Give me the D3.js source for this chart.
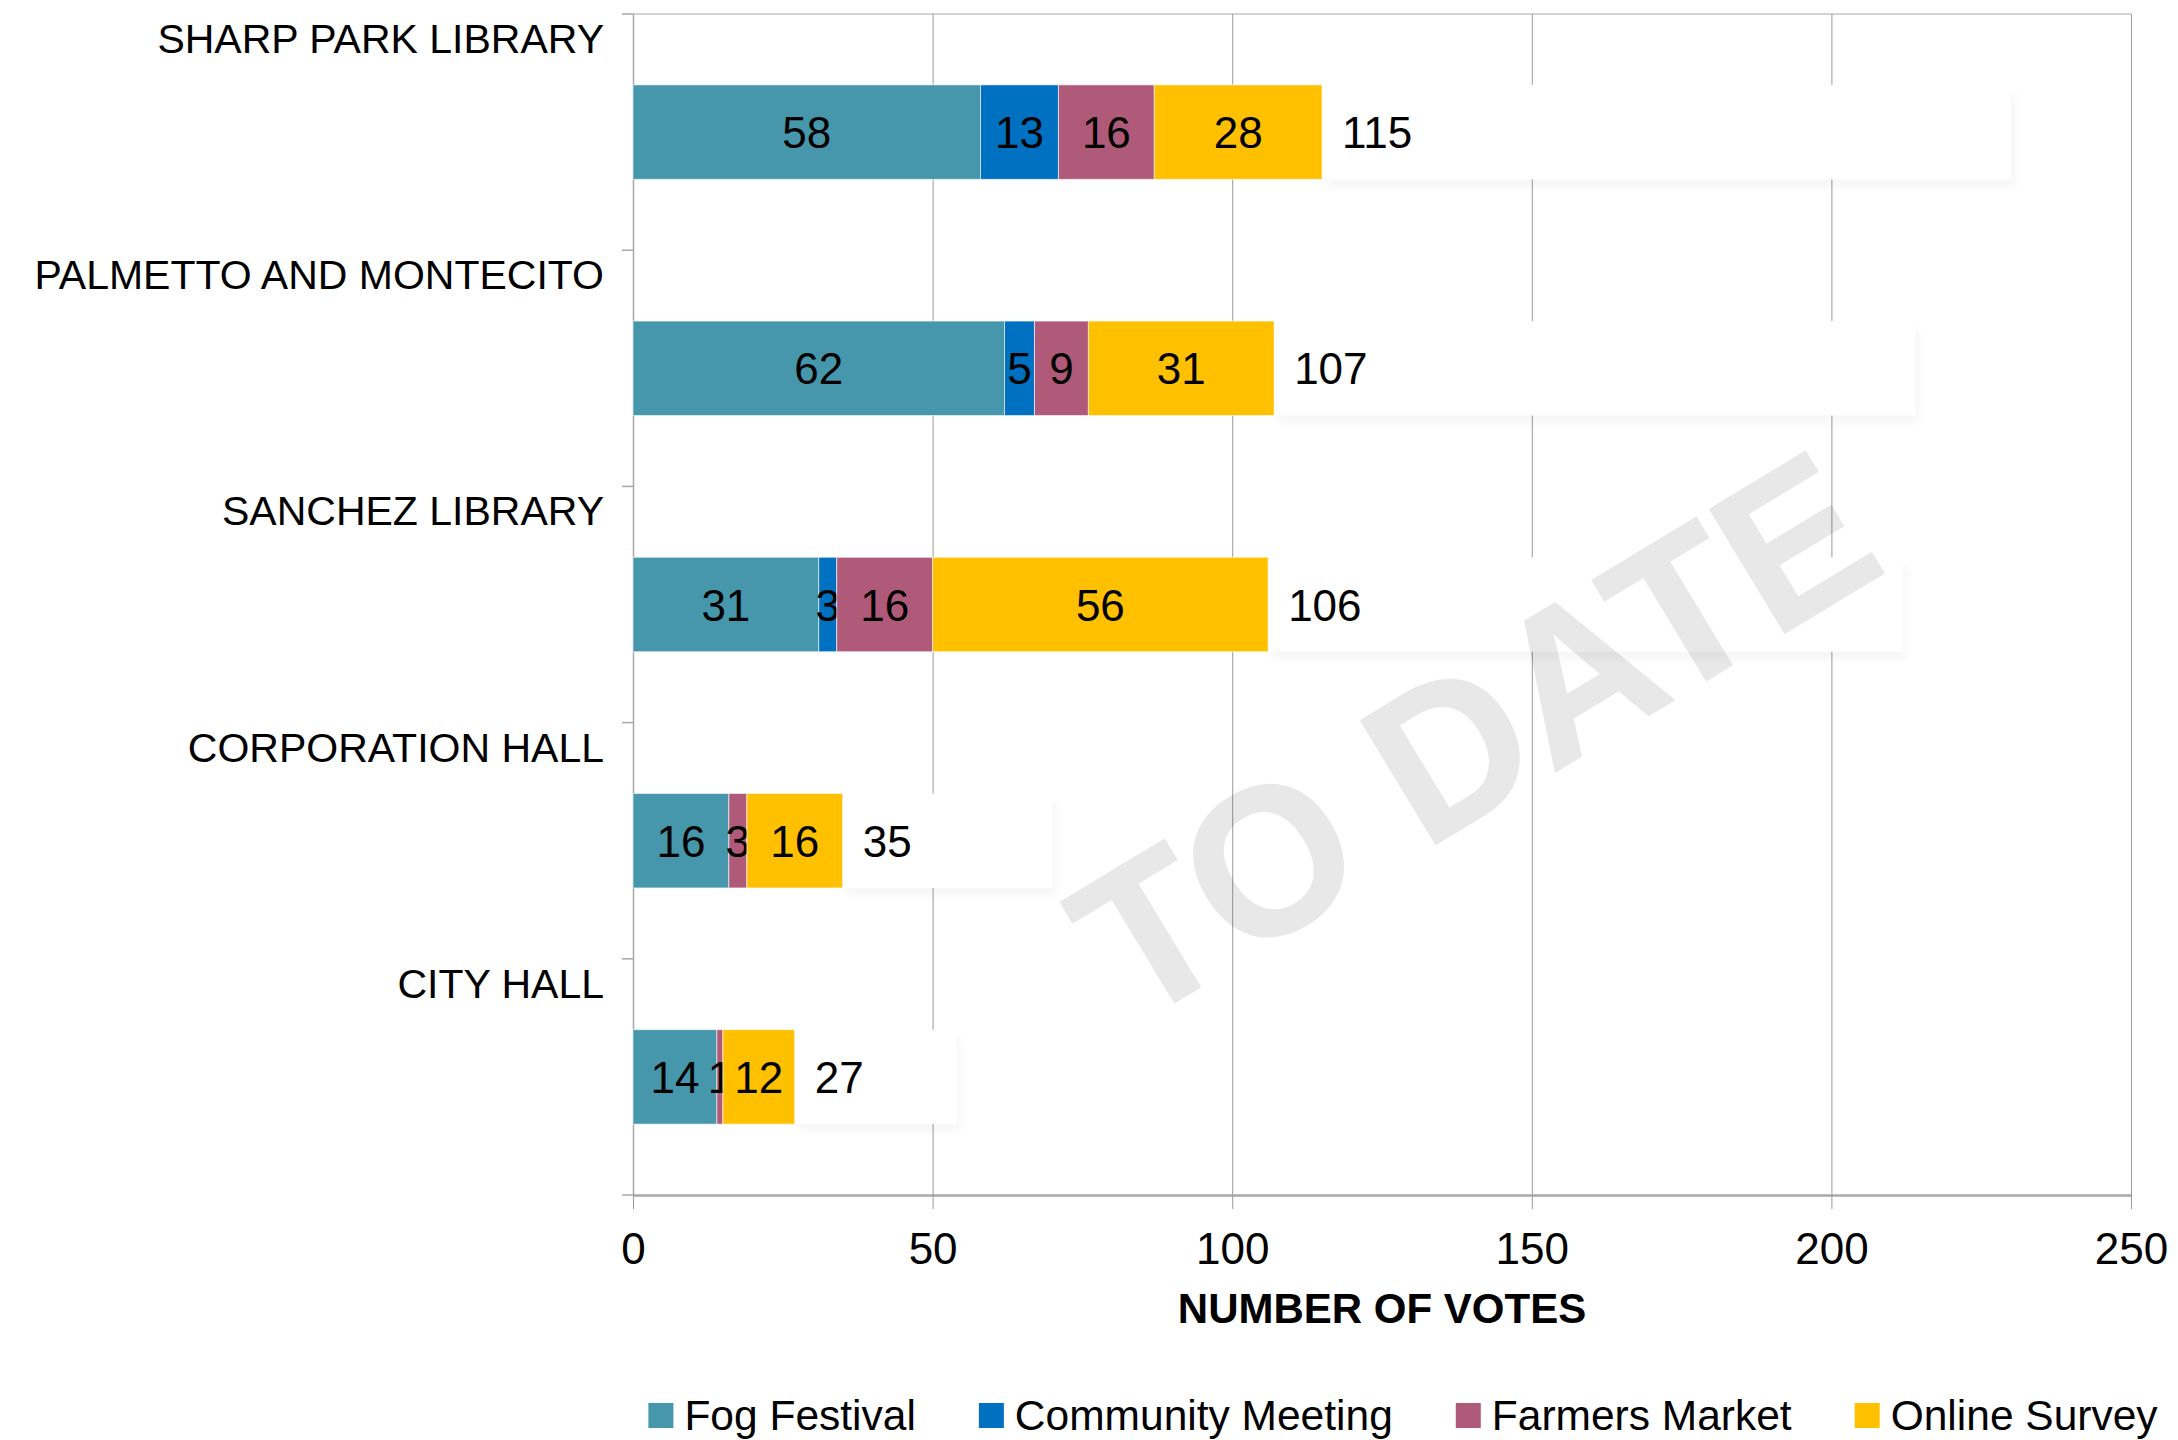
<!DOCTYPE html>
<html>
<head>
<meta charset="utf-8">
<script src="https://cdn.jsdelivr.net/npm/d3@7"></script>
<style>
  html, body { margin: 0; padding: 0; background: #fff; }
  svg { display: block; font-family: "Liberation Sans", Arial, sans-serif; }
</style>
</head>
<body>
<svg id="chart" width="2178" height="1440"></svg>
<script>
// Votes per site, one array per collection method
var sites = ['SHARP PARK LIBRARY', 'PALMETTO AND MONTECITO', 'SANCHEZ LIBRARY', 'CORPORATION HALL', 'CITY HALL'];
var seriesNames = ['Fog Festival', 'Community Meeting', 'Farmers Market', 'Online Survey'];
var fogFestival = [58, 62, 31, 16, 14];
var communityMeeting = [13, 5, 3, 0, 0];
var farmersMarket = [16, 9, 16, 3, 1];
var onlineSurvey = [28, 31, 56, 16, 12];
var xTicks = [0, 50, 100, 150, 200, 250];
var axisTitle = 'NUMBER OF VOTES';
var watermark = 'TO DATE';

var seriesColors = ['#4697ab', '#0070c0', '#af5a78', '#ffc000'];

(function () {
    var svg = d3.select('#chart');
    var plot = {left: 633, right: 2131, top: 14, bottom: 1195};

    var seriesValues = [fogFestival, communityMeeting, farmersMarket, onlineSurvey];
    var rows = sites.map(function(site, i) {
        var row = {site: site};
        seriesNames.forEach(function(name, k) { row[name] = seriesValues[k][i]; });
        row.total = d3.sum(seriesValues, function(vals) { return vals[i]; });
        return row;
    });

    var x = d3.scaleLinear().domain([0, 250]).range([plot.left, plot.right]);
    var y = d3.scaleBand().domain(sites).range([plot.top, plot.bottom])
        .paddingInner(0.6).paddingOuter(0.3);
    var color = d3.scaleOrdinal().domain(seriesNames).range(seriesColors);

    var step = y.step();
    var bandTop = function(site) { return y(site) - y.paddingOuter() * step; };

    // Soft shadow used under the white total boxes
    var defs = svg.append('defs');
    var blur = defs.append('filter').attr('id', 'soft').attr('x', '-10%').attr('y', '-30%')
        .attr('width', '120%').attr('height', '160%');
    blur.append('feGaussianBlur').attr('stdDeviation', 4);

    // plot frame top
    svg.append('line')
        .attr('x1', plot.left).attr('x2', plot.right)
        .attr('y1', plot.top).attr('y2', plot.top)
        .attr('stroke', '#d4d4d4').attr('stroke-width', 2);

    // vertical gridlines
    svg.append('g').selectAll('line')
        .data(xTicks.filter(function(t) { return t > 0; }))
        .enter().append('line')
        .attr('x1', function(d) { return x(d) + 0.5; })
        .attr('x2', function(d) { return x(d) + 0.5; })
        .attr('y1', plot.top).attr('y2', plot.bottom)
        .attr('stroke', '#9a9a9a').attr('stroke-width', 1);

    // x axis
    var xAxis = d3.axisBottom(x).tickValues(xTicks).tickSize(14).tickPadding(24).tickSizeOuter(0);
    var gx = svg.append('g')
        .attr('transform', 'translate(0,' + plot.bottom + ')')
        .call(xAxis);
    gx.select('.domain').attr('stroke', '#a8a8a8').attr('stroke-width', 2.5);
    gx.selectAll('.tick line').attr('stroke', '#9a9a9a').attr('stroke-width', 1);
    gx.selectAll('.tick text')
        .attr('font-size', 44).attr('fill', '#000')
        .attr('font-family', '"Liberation Sans", Arial, sans-serif');

    svg.append('text')
        .attr('x', (plot.left + plot.right) / 2)
        .attr('y', 1323)
        .attr('text-anchor', 'middle')
        .attr('font-size', 42)
        .attr('font-weight', 'bold')
        .text(axisTitle);

    // y axis line with ticks at the band edges
    var edges = d3.range(sites.length + 1).map(function(i) { return plot.top + i * step; });
    svg.append('line')
        .attr('x1', plot.left + 0.5).attr('x2', plot.left + 0.5)
        .attr('y1', plot.top).attr('y2', plot.bottom)
        .attr('stroke', '#a8a8a8').attr('stroke-width', 1.5);
    svg.append('g').selectAll('line')
        .data(edges)
        .enter().append('line')
        .attr('x1', plot.left - 11).attr('x2', plot.left)
        .attr('y1', function(d) { return d; }).attr('y2', function(d) { return d; })
        .attr('stroke', '#a8a8a8').attr('stroke-width', 1.5);

    svg.append('g').selectAll('text')
        .data(sites)
        .enter().append('text')
        .attr('x', 604)
        .attr('y', function(d) { return bandTop(d) + 39; })
        .attr('text-anchor', 'end')
        .attr('font-size', 41)
        .text(function(d) { return d; });

    // stacked segments
    var stacked = d3.stack().keys(seriesNames)(rows);
    var layers = svg.append('g').selectAll('g')
        .data(stacked)
        .enter().append('g')
        .attr('fill', function(d) { return color(d.key); });

    layers.selectAll('rect')
        .data(function(d) { return d.filter(function(s) { return s[1] > s[0]; }); })
        .enter().append('rect')
        .attr('x', function(d) { return x(d[0]); })
        .attr('y', function(d) { return y(d.data.site); })
        .attr('width', function(d) { return x(d[1]) - x(d[0]); })
        .attr('height', y.bandwidth())
        .attr('stroke', 'rgba(255,255,255,0.6)')
        .attr('stroke-width', 1);

    // white boxes that carry the totals (they hide the gridlines)
    var boxes = svg.append('g');
    boxes.selectAll('rect.shadow')
        .data(rows)
        .enter().append('rect')
        .attr('class', 'shadow')
        .attr('x', function(d) { return x(d.total) + 4; })
        .attr('y', function(d) { return y(d.site) + 8; })
        .attr('width', function(d) { return x(2 * d.total) - x(d.total); })
        .attr('height', y.bandwidth())
        .attr('fill', '#000').attr('opacity', 0.03)
        .attr('filter', 'url(#soft)');
    boxes.selectAll('rect.box')
        .data(rows)
        .enter().append('rect')
        .attr('class', 'box')
        .attr('x', function(d) { return x(d.total); })
        .attr('y', function(d) { return y(d.site); })
        .attr('width', function(d) { return x(2 * d.total) - x(d.total); })
        .attr('height', y.bandwidth())
        .attr('fill', '#fff');

    var labelY = function(site) { return y(site) + y.bandwidth() / 2 + 16; };

    layers.selectAll('text')
        .data(function(d) { return d.filter(function(s) { return s[1] > s[0]; }); })
        .enter().append('text')
        .attr('x', function(d) { return (x(d[0]) + x(d[1])) / 2; })
        .attr('y', function(d) { return labelY(d.data.site); })
        .attr('text-anchor', 'middle')
        .attr('font-size', 44)
        .attr('fill', '#000')
        .text(function(d) { return d[1] - d[0]; });

    svg.append('g').selectAll('text')
        .data(rows)
        .enter().append('text')
        .attr('x', function(d) { return x(d.total) + 20; })
        .attr('y', function(d) { return labelY(d.site); })
        .attr('font-size', 44)
        .text(function(d) { return d.total; });

    //Watermark is a translucent grey layer on top, gridlines show through it
    svg.append('text')
        .attr('transform', 'translate(1512,798) rotate(-31.2)')
        .attr('text-anchor', 'middle')
        .attr('font-size', 210)
        .attr('font-weight', 'bold')
        .attr('textLength', 885)
        .attr('lengthAdjust', 'spacingAndGlyphs')
        .attr('fill', '#000')
        .attr('stroke', '#000')
        .attr('stroke-width', 2)
        .attr('stroke-linejoin', 'round')
        .attr('opacity', 0.085)
        .text(watermark);

    // legend, centred under the plot
    var legend = svg.append('g');
    var items = legend.selectAll('g')
        .data(seriesNames)
        .enter().append('g');
    items.append('rect')
        .attr('y', 1403).attr('width', 25).attr('height', 25)
        .attr('fill', function(d) { return color(d); });
    items.append('text')
        .attr('x', 36).attr('y', 1430)
        .attr('font-size', 42.5)
        .text(function(d) { return d; });

    var offset = 0;
    items.each(function() {
        var w = 36 + d3.select(this).select('text').node().getComputedTextLength();
        d3.select(this).attr('transform', 'translate(' + offset + ',0)');
        offset += w + 63;
    });
    var legendWidth = offset - 63;
    legend.attr('transform', 'translate(' + (1403 - legendWidth / 2) + ',0)');
}());
</script>
</body>
</html>
